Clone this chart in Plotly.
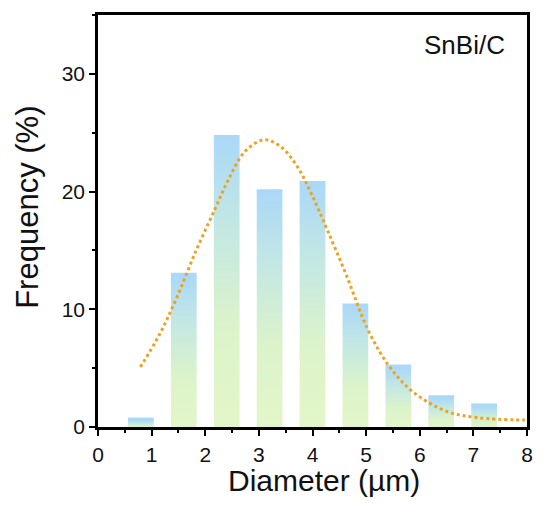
import plotly.graph_objects as go

# ---- data ----
diameter_bins = [0.8, 1.6, 2.4, 3.2, 4.0, 4.8, 5.6, 6.4, 7.2]
frequency = [0.8, 13.1, 24.8, 20.2, 20.9, 10.5, 5.3, 2.7, 2.0]
bar_width = 0.48

fit_x = [0.79, 1.14, 1.45, 1.83, 2.18, 2.43, 2.74, 3.10, 3.41, 3.72,
         3.97, 4.27, 4.64, 5.04, 5.44, 5.87, 6.49, 7.10, 7.96]
fit_y = [5.1, 7.8, 10.8, 15.0, 18.5, 21.0, 23.4, 24.4, 23.8, 22.1,
         19.9, 16.8, 12.8, 8.2, 5.1, 3.0, 1.35, 0.78, 0.59]

x_ticks = [0, 1, 2, 3, 4, 5, 6, 7, 8]
y_ticks = [0, 10, 20, 30]

x_title = "Diameter (µm)"
y_title = "Frequency (%)"
label = "SnBi/C"

FONT = "Liberation Sans, Arial, sans-serif"
grad = [[0.0, "#E3F6C8"], [0.35, "#DCF3CA"], [0.7, "#C2E7E4"], [1.0, "#AAD8F7"]]

fig = go.Figure()
for c, h in zip(diameter_bins, frequency):
    x0, x1 = c - bar_width / 2, c + bar_width / 2
    fig.add_trace(go.Scatter(
        x=[x0, x0, x1, x1, x0], y=[0, h, h, 0, 0],
        mode="lines", line=dict(width=0), fill="toself",
        fillgradient=dict(type="vertical", colorscale=grad, start=0, stop=h),
        hoverinfo="skip", showlegend=False))

fig.add_trace(go.Scatter(
    x=fit_x, y=fit_y, mode="lines",
    line=dict(color="#EFA21E", width=3, dash="dot", shape="spline", smoothing=1.0),
    showlegend=False))

fig.add_annotation(text=label, x=0.855, y=0.926, xref="paper", yref="paper",
                   xanchor="center", yanchor="middle", showarrow=False,
                   font=dict(family=FONT, size=26, color="#111"))
fig.add_annotation(text=x_title, x=0.527, y=0, xref="paper", yref="paper",
                   xanchor="center", yanchor="middle", yshift=-53, showarrow=False,
                   font=dict(family=FONT, size=30, color="#111"))
fig.add_annotation(text=y_title, x=0, y=0.532, xref="paper", yref="paper",
                   xanchor="center", yanchor="middle", xshift=-70, textangle=-90,
                   showarrow=False, font=dict(family=FONT, size=31, color="#111"))

axis_common = dict(showline=True, linecolor="black", linewidth=2.5, mirror=True,
                   ticks="outside", ticklen=6, tickwidth=2, tickcolor="black",
                   showgrid=False, zeroline=False, ticklabeloverflow="allow",
                   tickfont=dict(family=FONT, size=21, color="#111"))

fig.update_xaxes(range=[0, 8], tickvals=x_ticks, ticklabelstandoff=1,
                 minor=dict(ticks="outside", ticklen=3, tickwidth=2, dtick=0.5, tickcolor="black"),
                 **axis_common)
fig.update_yaxes(range=[0, 35], tickvals=y_ticks,
                 minor=dict(ticks="outside", ticklen=3, tickwidth=2, dtick=5, tickcolor="black"),
                 **axis_common)

# page body has an 8px margin: keep the figure small enough that the page never overflows,
# and place the plot area where the reference has it
fig.update_layout(width=529, height=490, margin=dict(l=90, r=6, t=4, b=71),
                  plot_bgcolor="white", paper_bgcolor="white")

fig.write_html("out.html")
